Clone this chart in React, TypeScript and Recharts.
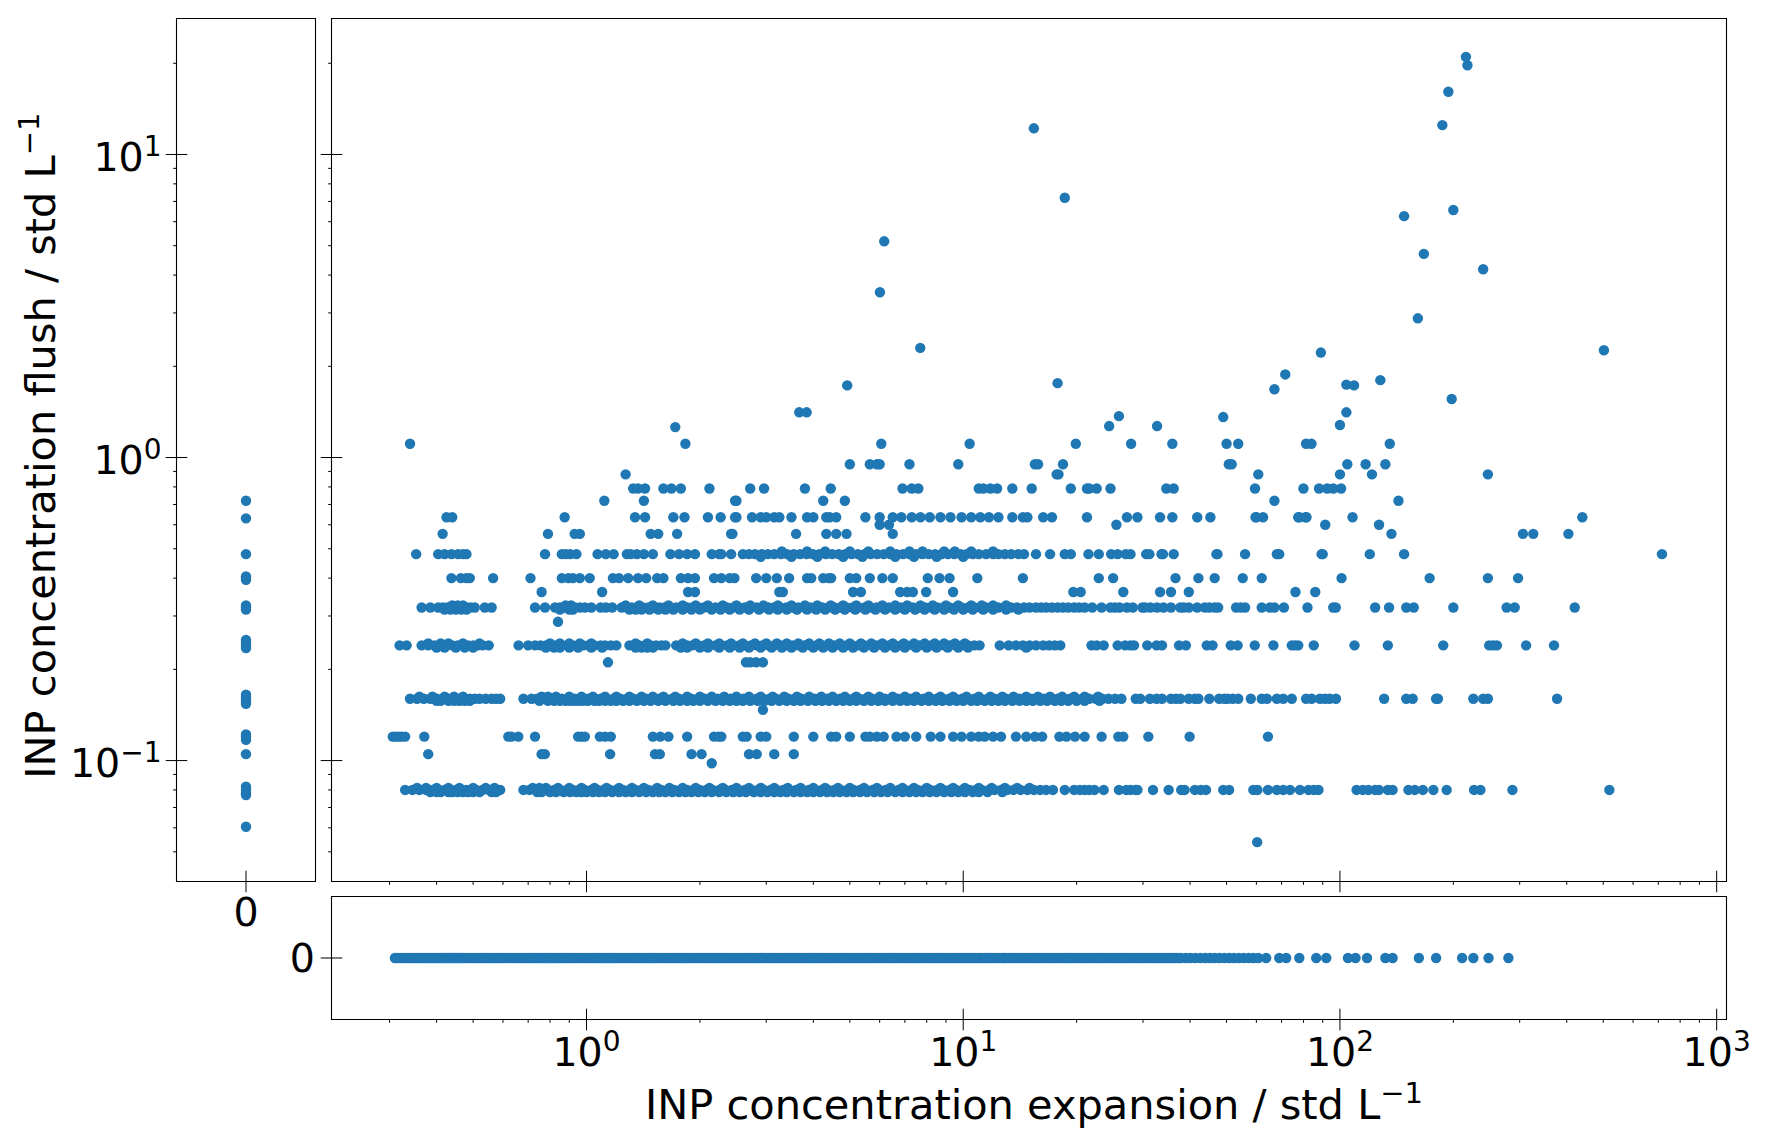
import { ReferenceArea, Scatter, ScatterChart, XAxis, YAxis } from 'recharts';

const COLOR = '#1f77b4';
const FONT = '"DejaVu Sans", sans-serif';
const LABEL_SIZE = 41.5;
const TICK_SIZE = 39.5;

// x ticks and y ticks of the log axes
const xMajor = [1, 10, 100, 1000];
const xMinor = [
  0.3, 0.4, 0.5, 0.6, 0.7, 0.8, 0.9, 2, 3, 4, 5, 6, 7, 8, 9, 20, 30, 40, 50, 60, 70, 80, 90, 200, 300,
  400, 500, 600, 700, 800, 900,
];
const yMajor = [0.1, 1, 10];
const yMinor = [
  0.05, 0.06, 0.07, 0.08, 0.09, 0.2, 0.3, 0.4, 0.5, 0.6, 0.7, 0.8, 0.9, 2, 3, 4, 5, 6, 7, 8, 9, 20,
];
const exponents: Record<number, string> = { 0.1: '−1', 1: '0', 10: '1', 100: '2', 1000: '3' };

// flush values where expansion was zero (left panel)
const flushOnly = [
  0.72, 0.63, 0.48, 0.405, 0.4, 0.395, 0.325, 0.32, 0.315, 0.25, 0.245, 0.24, 0.235, 0.165, 0.162, 0.16,
  0.157, 0.154, 0.122, 0.12, 0.117, 0.105, 0.082, 0.08, 0.078, 0.077, 0.0605,
];

// expansion values where flush was zero (bottom panel)
const expansionOnly = [
  0.31, 0.32, 0.33, 0.34, 0.35, 0.36, 0.37, 0.38, 0.39, 0.4, 0.41, 0.42, 0.43, 0.44, 0.45, 0.46, 0.47, 0.485,
  0.5, 0.515, 0.53, 0.545, 0.56, 0.575, 0.59, 0.61, 0.63, 0.65, 0.67, 0.69, 0.71, 0.73, 0.75, 0.77, 0.79, 0.81,
  0.83, 0.855, 0.88, 0.905, 0.93, 0.96, 0.99, 1.02, 1.05, 1.08, 1.11, 1.14, 1.17, 1.2, 1.24, 1.28, 1.32, 1.36,
  1.4, 1.44, 1.48, 1.52, 1.57, 1.62, 1.67, 1.72, 1.77, 1.82, 1.87, 1.93, 1.99, 2.05, 2.11, 2.17, 2.23, 2.3, 2.37,
  2.44, 2.51, 2.58, 2.66, 2.74, 2.82, 2.9, 2.99, 3.08, 3.17, 3.26, 3.36, 3.46, 3.56, 3.67, 3.78, 3.89, 4.0, 4.12,
  4.24, 4.37, 4.5, 4.64, 4.78, 4.92, 5.07, 5.22, 5.38, 5.54, 5.7, 5.87, 6.05, 6.23, 6.42, 6.61, 6.81, 7.01, 7.22,
  7.44, 7.66, 7.89, 8.13, 8.37, 8.62, 8.88, 9.15, 9.42, 9.7, 10, 10.3, 10.6, 10.9, 11.2, 11.6, 11.9, 12.3, 12.7,
  13, 13.4, 13.8, 14.2, 14.7, 15.1, 15.6, 16, 16.5, 17, 17.5, 18, 18.6, 19.1, 19.7, 20.3, 20.9, 21.5, 22.2, 22.8,
  23.5, 24.2, 25, 25.7, 26.5, 27.3, 28.1, 29, 29.8, 30.7, 31.7, 32.6, 33.6, 34.6, 35.6, 36.7, 37.8, 39, 40.1, 41.3,
  42.6, 43.9, 45.2, 46.5, 47.9, 49.3, 50.8, 52.3, 53.9, 55.5, 57.2, 58.9, 60.7, 63.7, 69, 72, 78, 86.5, 92, 105,
  110, 118, 132, 138, 162, 180, 211, 226, 248, 280,
];
const expansionOnlyDense = [
  0.315, 0.325, 0.335, 0.345, 0.355, 0.365, 0.375, 0.385, 0.395, 0.405, 0.415, 0.425, 0.435, 0.445, 0.455, 0.465, 0.477, 0.492,
  0.507, 0.522, 0.537, 0.552, 0.567, 0.582, 0.6, 0.62, 0.64, 0.66, 0.68, 0.7, 0.72, 0.74, 0.76, 0.78, 0.8, 0.82, 0.842, 0.867,
  0.892, 0.917, 0.945, 0.975, 1.005, 1.035, 1.065, 1.095, 1.125, 1.155, 1.185, 1.22, 1.26, 1.3, 1.34, 1.38, 1.42, 1.46, 1.5, 1.545,
  1.595, 1.645, 1.695, 1.745, 1.795, 1.845, 1.9, 1.96, 2.02, 2.08, 2.14, 2.2, 2.265, 2.335, 2.405, 2.475, 2.545, 2.62, 2.7, 2.78,
  2.86, 2.945, 3.035, 3.125, 3.215, 3.31, 3.41, 3.51, 3.615, 3.725, 3.835, 3.945, 4.06, 4.18, 4.305, 4.435, 4.57, 4.71, 4.85, 4.995,
  5.145, 5.3, 5.46, 5.62, 5.785, 5.96, 6.14, 6.325, 6.515, 6.71, 6.91, 7.115, 7.33, 7.55, 7.775, 8.01, 8.25, 8.495, 8.75, 9.015,
  9.285, 9.56, 9.85, 10.15, 10.45, 10.75, 11.05, 11.4, 11.75, 12.1, 12.5, 12.85, 13.2, 13.6, 14, 14.45, 14.9, 15.35, 15.8, 16.25,
  16.75, 17.25, 17.75, 18.3, 18.85, 19.4, 20, 20.6, 21.2, 21.85, 22.5, 23.15, 23.85, 24.6, 25.35, 26.1, 26.9, 27.7, 28.55, 29.4,
  30.25, 31.2, 32.15, 33.1, 34.1, 35.1, 36.15, 37.25,
];

// main panel, one list of expansion values per flush level
const at008 = [
  0.33, 0.345, 0.36, 0.375, 0.39, 0.405, 0.42, 0.435, 0.45, 0.465, 0.48, 0.495, 0.51, 0.53, 0.55, 0.57, 0.59, 0.68,
  0.705, 0.73, 0.76, 0.79, 0.82, 0.85, 0.885, 0.92, 0.955, 0.99, 1.03, 1.07, 1.11, 1.155, 1.2, 1.25, 1.3, 1.35, 1.4,
  1.46, 1.52, 1.58, 1.64, 1.71, 1.78, 1.85, 1.92, 2.0, 2.08, 2.16, 2.25, 2.34, 2.43, 2.53, 2.63, 2.74, 2.85, 2.96,
  3.08, 3.2, 3.33, 3.46, 3.6, 3.74, 3.89, 4.05, 4.21, 4.38, 4.55, 4.73, 4.92, 5.12, 5.32, 5.53, 5.75, 5.98, 6.22,
  6.47, 6.73, 7.0, 7.28, 7.57, 7.87, 8.19, 8.52, 8.86, 9.21, 9.58, 9.96, 10.4, 10.8, 11.2, 11.7, 12.1, 12.6, 13.1,
  13.6, 14.2, 14.8, 15.4, 16, 16.6, 17.3, 18.6, 19.7, 20.4, 21, 21.6, 22.3, 23.6, 25.9, 27.1, 27.8, 28.7, 29, 31.9,
  35.1, 37.9, 38.7, 41.2, 42.7, 44.1, 49, 50.8, 58.9, 60.4, 64.4, 68, 70.7, 73.7, 78.3, 82.5, 85.2, 87.7, 110.7, 115,
  119, 124, 127, 134, 138, 152, 158, 166, 177, 192, 227, 236, 287, 519,
];
const at0079 = [
  0.385, 0.41, 0.44, 0.47, 0.5, 0.575, 0.74, 0.8, 0.87, 0.94, 1.0, 1.08, 1.17, 1.27, 1.38, 1.5, 1.62, 1.76, 1.9, 2.06,
  2.25, 2.45, 2.65, 2.9, 3.15, 3.4, 3.7, 4.0, 4.35, 4.7, 5.1, 5.55, 6.05, 6.6, 7.2, 7.8, 8.5, 9.3, 10.1, 11,
  0.4, 0.43, 0.455, 0.485, 0.52, 0.56, 0.76, 0.83, 0.905, 0.97, 1.04, 1.12, 1.22, 1.32, 1.44, 1.56, 1.69, 1.83, 1.98, 2.15,
  2.35, 2.55, 2.78, 3.02, 3.27, 3.55, 3.85, 4.17, 4.52, 4.9, 5.32, 5.8, 6.3, 6.9, 7.5, 8.15, 8.9, 9.7, 10.6, 11.6, 12.7,
];
const at0081 = [
  0.355, 0.4, 0.46, 0.54, 0.72, 0.78, 0.9, 1.05, 1.22, 1.42, 1.66, 1.95, 2.3, 2.7, 3.15, 3.7, 4.3, 5, 5.9, 6.9, 8, 9.4,
  11, 12.9, 15, 0.375, 0.43, 0.5, 0.57, 0.75, 0.84, 0.97, 1.13, 1.32, 1.54, 1.8, 2.12, 2.5, 2.9, 3.42, 4, 4.65, 5.45, 6.4,
  7.4, 8.7, 10.1, 11.9, 13.9,
];
const at012 = [
  0.306, 0.312, 0.317, 0.323, 0.33, 0.371, 0.62, 0.632, 0.659, 0.73, 0.95, 0.97, 0.99, 1.085, 1.12, 1.16, 1.5, 1.57,
  1.65, 1.85, 2.18, 2.24, 2.28, 2.6, 2.66, 2.9, 3.0, 3.55, 4.0, 4.46, 4.6, 5.0, 5.5, 5.65, 5.9, 6.15, 6.65, 7, 7.5, 8.2,
  8.7, 9.4, 9.9, 10.5, 11, 11.4, 12, 12.6, 13.8, 14.7, 15.5, 16.2, 18, 18.8, 19.8, 21, 23.3, 25.8, 26.6, 31, 39.9, 64.4,
];
const at0105 = [0.38, 0.76, 0.775, 1.155, 1.52, 1.565, 1.9, 2.02, 2.7, 2.83, 3.15, 3.55];
const at016 = [
  0.34, 0.355, 0.37, 0.385, 0.4, 0.415, 0.43, 0.445, 0.46, 0.475, 0.49, 0.505, 0.52, 0.54, 0.56, 0.575, 0.59, 0.68, 0.715,
  0.74, 0.77, 0.8, 0.83, 0.86, 0.895, 0.93, 0.97, 1.01, 1.05, 1.09, 1.13, 1.18, 1.23, 1.28, 1.33, 1.38, 1.44, 1.5, 1.56,
  1.62, 1.69, 1.76, 1.83, 1.9, 1.98, 2.06, 2.14, 2.23, 2.32, 2.41, 2.51, 2.61, 2.72, 2.83, 2.94, 3.06, 3.18, 3.31, 3.44,
  3.58, 3.72, 3.87, 4.03, 4.19, 4.36, 4.53, 4.71, 4.9, 5.1, 5.3, 5.51, 5.73, 5.96, 6.2, 6.45, 6.71, 6.98, 7.26, 7.55,
  7.85, 8.16, 8.49, 8.83, 9.18, 9.55, 9.93, 10.3, 10.7, 11.1, 11.6, 12.1, 12.5, 13, 13.6, 14.1, 14.7, 15.2, 15.8, 16.4,
  17.1, 17.8, 18.5, 19.2, 20, 20.8, 21.6, 22.5, 23.4, 24.3, 25.3, 26.3, 28.7, 29.5, 31.3, 32.6, 33.7, 35.6, 36.7, 37.7,
  39.7, 41.2, 42.1, 45, 47.8, 49.3, 50.3, 51.9, 53.7, 58, 62, 64, 68, 70.7, 74.5, 81.3, 84.1, 88.5, 91.2, 93.9, 97.6, 131,
  150, 156, 180, 182, 226, 240, 247, 377,
];
const at0157 = [
  0.4, 0.43, 0.46, 0.49, 0.75, 0.82, 0.88, 0.93, 0.98, 1.05, 1.12, 1.2, 1.3, 1.42, 1.55, 1.7, 1.85, 2.0, 2.2, 2.4, 2.6, 2.85,
  3.1, 3.4, 3.7, 4.05, 4.4, 4.8, 5.2, 5.7, 6.2, 6.8, 7.4, 8.1, 8.8, 9.6, 10.5, 11.4, 12.4, 13.5, 14.7, 16, 17.5, 19, 21, 23,
  0.41, 0.445, 0.475, 0.79, 0.85, 0.905, 0.955, 1.01, 1.08, 1.16, 1.25, 1.36, 1.48, 1.62, 1.77, 1.92, 2.1, 2.3, 2.5, 2.72, 2.97,
  3.25, 3.55, 3.87, 4.22, 4.6, 5, 5.45, 5.95, 6.5, 7.1, 7.75, 8.45, 9.2, 10, 10.9, 11.9, 12.9, 14.1, 15.3, 16.7, 18.2, 20,
];
const at0163 = [
  0.36, 0.42, 0.47, 0.76, 0.9, 1.04, 1.2, 1.4, 1.6, 1.85, 2.15, 2.5, 2.9, 3.35, 3.9, 4.5, 5.2, 6, 7, 8.1, 9.4, 11, 12.7, 14.7,
  17, 19.7, 22.8, 0.39, 0.445, 0.79, 0.83, 0.97, 1.12, 1.3, 1.5, 1.72, 2, 2.32, 2.7, 3.12, 3.62, 4.2, 4.85, 5.6, 6.5, 7.5, 8.7,
  10.2, 11.8, 13.6, 15.8, 18.3, 21,
];
const at024 = [
  0.319, 0.333, 0.365, 0.38, 0.395, 0.41, 0.425, 0.44, 0.455, 0.47, 0.485, 0.5, 0.515, 0.53, 0.55, 0.66, 0.7, 0.73, 0.755,
  0.78, 0.805, 0.83, 0.86, 0.89, 0.92, 0.95, 0.98, 1.01, 1.05, 1.09, 1.12, 1.16, 1.2, 1.3, 1.34, 1.38, 1.43, 1.48, 1.53, 1.58,
  1.62, 1.73, 1.79, 1.85, 1.91, 1.98, 2.05, 2.12, 2.2, 2.28, 2.36, 2.45, 2.54, 2.63, 2.73, 2.83, 2.93, 3.04, 3.15, 3.27, 3.39,
  3.52, 3.65, 3.79, 3.93, 4.08, 4.23, 4.39, 4.55, 4.72, 4.9, 5.08, 5.27, 5.47, 5.68, 5.89, 6.11, 6.34, 6.58, 6.83, 7.09, 7.36,
  7.64, 7.93, 8.23, 8.54, 8.86, 9.2, 9.55, 9.9, 10.3, 10.7, 11.05, 12.5, 13.2, 13.8, 14.4, 15, 15.6, 16.3, 16.9, 17.5, 18.1,
  21.9, 22.6, 23.6, 25.7, 26.9, 27.8, 28.4, 30.8, 32.6, 33.7, 37.4, 39, 44.3, 45.9, 51.3, 53.5, 59.4, 66.6, 74.5, 76, 77.5,
  85.2, 109.3, 134, 188, 249, 255, 261, 312, 370,
];
const at0236 = [
  0.4, 0.45, 0.5, 0.78, 0.85, 0.95, 1.1, 1.4, 1.5, 1.85, 2.1, 2.4, 2.7, 3.1, 3.5, 4, 4.5, 5.1, 5.8, 6.6, 7.5, 8.5, 9.7, 14.7,
  0.42, 0.475, 0.82, 0.9, 1.03, 1.35, 1.45, 1.78, 2, 2.25, 2.55, 2.9, 3.3, 3.75, 4.25, 4.8, 5.45, 6.2, 7, 8, 9.1, 10.3,
];
const at0243 = [
  0.38, 0.43, 0.52, 0.8, 0.9, 1.03, 1.45, 1.95, 2.25, 2.6, 3, 3.4, 3.9, 4.4, 5, 5.7, 6.5, 7.4, 8.4, 9.5, 0.41, 0.47, 0.85, 0.96,
  1.35, 1.8, 2.1, 2.42, 2.8, 3.2, 3.65, 4.15, 4.7, 5.35, 6.1, 6.95, 7.9, 8.9, 10.1,
];
const at032 = [
  0.365, 0.385, 0.404, 0.415, 0.426, 0.437, 0.448, 0.459, 0.47, 0.481, 0.492, 0.505, 0.537, 0.56, 0.73, 0.776, 0.825, 0.85,
  0.875, 0.9, 0.93, 0.96, 0.99, 1.03, 1.09, 1.125, 1.17, 1.24, 1.28, 1.32, 1.36, 1.41, 1.46, 1.51, 1.56, 1.61, 1.67, 1.73, 1.79,
  1.85, 1.91, 1.98, 2.05, 2.12, 2.2, 2.28, 2.36, 2.45, 2.54, 2.63, 2.73, 2.83, 2.93, 3.04, 3.15, 3.27, 3.39, 3.52, 3.65, 3.79,
  3.93, 4.08, 4.23, 4.39, 4.55, 4.72, 4.9, 5.08, 5.27, 5.47, 5.68, 5.89, 6.11, 6.34, 6.58, 6.83, 7.09, 7.36, 7.64, 7.93, 8.23,
  8.54, 8.86, 9.2, 9.55, 9.9, 10.3, 10.7, 11.1, 11.5, 11.9, 12.4, 12.9, 13.4, 13.9, 14.5, 15, 15.6, 16.1, 16.6, 17.2, 17.8, 18.4,
  19, 19.7, 20.3, 21, 22, 23.3, 24.6, 25.3, 26, 27.2, 28.2, 29.9, 30.4, 31.4, 32.7, 34, 35.6, 37.7, 38.5, 39.7, 41.8, 43.8, 45,
  46.5, 47.5, 53, 54.5, 56, 62, 65.2, 67, 71, 82, 96, 97.5, 124, 135, 150, 157, 200, 277, 291, 420,
];
const at0315 = [
  0.42, 0.45, 0.48, 0.85, 0.92, 1.3, 1.4, 1.55, 1.7, 1.9, 2.15, 2.4, 2.7, 3.05, 3.4, 3.85, 4.3, 4.85, 5.5, 6.2, 7, 7.9, 8.9, 10,
  11.3, 13, 0.435, 0.465, 0.9, 1.35, 1.47, 1.62, 1.8, 2, 2.27, 2.55, 2.87, 3.22, 3.62, 4.07, 4.57, 5.17, 5.85, 6.6, 7.45, 8.4,
  9.45, 10.6, 12, 14,
];
const at0325 = [
  0.44, 0.47, 0.88, 1.27, 1.5, 1.8, 2.1, 2.5, 2.95, 3.5, 4.1, 4.8, 5.6, 6.6, 7.7, 9, 10.5, 12, 0.455, 0.91, 1.38, 1.65, 1.95, 2.3,
  2.72, 3.22, 3.8, 4.45, 5.2, 6.1, 7.1, 8.3, 9.7, 11.2, 13,
];
const at036 = [
  0.76, 1.1, 1.86, 1.94, 3.25, 3.32, 5.1, 5.35, 6.8, 7.1, 7.35, 7.97, 9.4, 19.6, 20.5, 26.6, 33.3, 35.6, 39.7, 76.2, 86,
];
const at04 = [
  0.438, 0.464, 0.48, 0.49, 0.565, 0.71, 0.86, 0.895, 0.92, 0.96, 1.02, 1.175, 1.22, 1.29, 1.37, 1.44, 1.54, 1.6, 1.78, 1.86, 1.94,
  2.18, 2.28, 2.4, 2.47, 2.82, 3.0, 3.2, 3.45, 3.85, 3.95, 4.25, 4.4, 4.46, 5.0, 5.2, 5.65, 6.1, 6.5, 8.05, 8.65, 9.2, 10.9, 14.4,
  22.9, 25, 36.6, 42.1, 46.5, 55.2, 62, 101, 173, 247, 297,
];
const at048 = [
  0.353, 0.404, 0.42, 0.438, 0.456, 0.47, 0.48, 0.776, 0.86, 0.88, 0.905, 0.94, 1.07, 1.125, 1.18, 1.28, 1.31, 1.36, 1.42, 1.5,
  1.67, 1.76, 1.85, 1.94, 2.15, 2.25, 2.28, 2.42, 2.6, 2.7, 2.8, 2.92, 3.03, 3.15, 3.28, 3.41, 3.55, 3.69, 3.84, 3.99, 4.15, 4.32,
  4.49, 4.67, 4.86, 5.05, 5.25, 5.46, 5.68, 5.91, 6.15, 6.4, 6.65, 6.92, 7.2, 7.49, 7.79, 8.1, 8.42, 8.76, 9.11, 9.47, 9.85, 10.2,
  10.6, 11, 11.5, 12, 12.4, 12.9, 13.4, 14, 14.5, 15.6, 17, 18.6, 19.3, 21.5, 22.9, 24.7, 25.7, 27, 27.8, 30.6, 31.2, 33.6, 33.9,
  36.2, 47, 47.3, 56, 68, 69, 89.4, 90, 120, 148, 716,
];
const at049 = [3.3, 3.85, 4.3, 5, 5.6, 6.4, 7.2, 7.8, 8.9, 9.5, 10.5, 12];
const at047 = [2.9, 3.5, 4.1, 4.8, 5.4, 6.6, 7.4, 8.5, 10];
const at056 = [0.415, 0.79, 0.93, 0.96, 1.48, 1.55, 1.74, 2.42, 2.44, 3.6, 4.33, 4.6, 4.9, 6.5, 137, 306, 326, 404];
const at06 = [6.0, 6.35, 25.5, 91.4, 127];
const at064 = [
  0.425, 0.44, 0.875, 1.345, 1.43, 1.7, 1.82, 2.1, 2.27, 2.48, 2.5, 2.75, 2.9, 3.0, 3.15, 3.25, 3.5, 3.85, 4.0, 4.33, 4.42, 4.6,
  5.5, 6.0, 6.5, 6.85, 7.3, 7.7, 8.15, 8.7, 9.25, 9.9, 10.5, 11.1, 11.7, 12.4, 13.5, 14.4, 14.8, 16.3, 17.2, 21.3, 27.2, 29, 33.3,
  35.9, 41.8, 45.3, 59.7, 60, 62.5, 77.5, 78, 81, 81.5, 108, 440,
];
const at072 = [1.115, 1.42, 2.48, 2.5, 4.25, 4.85, 67, 143];
const at08 = [
  1.33, 1.37, 1.43, 1.6, 1.68, 1.78, 2.12, 2.72, 2.96, 3.8, 4.45, 6.9, 7.3, 7.6, 11, 11.3, 11.8, 12.3, 13.5, 15.2, 19.3, 21.3, 21.6,
  22.6, 24.6, 34.6, 36.2, 59.5, 80, 88, 92.5, 96, 100.7,
];
const at088 = [1.27, 17.7, 17.9, 60.7, 100, 121.6, 247];
const at095 = [5.0, 5.65, 5.9, 6.0, 7.2, 9.7, 15.5, 15.8, 18.4, 50.7, 51.6, 104.6, 117, 132];
const at111 = [0.34, 1.83, 6.06, 10.4, 19.9, 27.9, 35.9, 50, 53.7, 81.3, 84, 135.6];
const at0285 = [0.84];
const at021 = [1.14, 2.65, 2.72, 2.82, 2.94];
const at0147 = [2.94];
const at0098 = [2.15];
const at0054 = [60.3];

// scattered high points as [expansion, flush]
const outliers = [
  [216, 21], [218, 19.7], [194, 16.1], [187, 12.5], [15.4, 12.2], [18.6, 7.2], [200, 6.56], [148, 6.26], [6.17, 5.17], [167, 4.7],
  [240, 4.18], [6.01, 3.51], [161, 2.88], [7.69, 2.3], [502, 2.26], [89, 2.22], [71.6, 1.88], [4.92, 1.73], [67, 1.68], [17.8, 1.76],
  [104, 1.74], [109, 1.73], [128, 1.8], [198, 1.56], [3.67, 1.41], [3.84, 1.41], [104, 1.41], [25.9, 1.37], [24.4, 1.27], [32.7, 1.27],
  [49, 1.36], [100, 1.28], [1.72, 1.26],
];

const level = (xs: number[], y: number) => xs.map((x) => ({ x, y }));

const mainData = [
  ...level(at008, 0.08), ...level(at0079, 0.0787), ...level(at0081, 0.0812),
  ...level(at012, 0.12), ...level(at0105, 0.105), ...level(at016, 0.16),
  ...level(at0157, 0.1575), ...level(at0163, 0.1625), ...level(at024, 0.24),
  ...level(at0236, 0.236), ...level(at0243, 0.2435), ...level(at032, 0.32),
  ...level(at0315, 0.315), ...level(at0325, 0.325), ...level(at036, 0.36),
  ...level(at04, 0.4), ...level(at048, 0.48), ...level(at049, 0.49), ...level(at047, 0.47),
  ...level(at056, 0.56), ...level(at06, 0.6), ...level(at064, 0.635), ...level(at072, 0.72),
  ...level(at08, 0.79), ...level(at088, 0.88), ...level(at095, 0.95), ...level(at111, 1.11),
  ...level(at0285, 0.287), ...level(at021, 0.211), ...level(at0147, 0.147),
  ...level(at0098, 0.098), ...level(at0054, 0.0538),
  ...outliers.map(([x, y]) => ({ x, y })),
];
const leftData = flushOnly.map((y) => ({ x: 0, y }));
const bottomData = [...expansionOnly, ...expansionOnlyDense].map((x) => ({ x, y: 0 }));

const X_DOMAIN: [number, number] = [0.2104, 1062];
const Y_DOMAIN: [number, number] = [0.0399, 28.1];
const ZERO_DOMAIN: [number, number] = [-1, 1];
const W = 1766;
const H = 1145;
// the axes take 1px each, so the margins are 1px short of the panel edges
const MAIN_MARGIN = { left: 330.5, right: 39.5, top: 18.5, bottom: 262.5 };
const LEFT_MARGIN = { left: 175.5, right: 1450.5, top: 18.5, bottom: 262.5 };
const BOTTOM_MARGIN = { left: 330.5, right: 39.5, top: 896.5, bottom: 124.5 };

const Power = ({ x, y, anchor, value }: any) => (
  <text x={x} y={y} textAnchor={anchor} fontFamily={FONT} fontSize={TICK_SIZE} fill="#000">
    10
    <tspan dy={-15} fontSize={28}>
      {exponents[value]}
    </tspan>
  </text>
);

const BottomTick = ({ x, y, payload, showLabel }: any) => {
  const value = payload.value;
  const major = value === 0 || xMajor.includes(value);
  return (
    <g>
      <line x1={x} x2={x} y1={major ? y - 10.8 : y} y2={major ? y + 10.8 : y + 3.3} stroke="#000" strokeWidth={1} />
      {showLabel && major && value !== 0 && <Power x={x} y={y + 46.7} anchor="middle" value={value} />}
      {showLabel && value === 0 && (
        <text x={x} y={y + 44.2} textAnchor="middle" fontFamily={FONT} fontSize={TICK_SIZE} fill="#000">
          0
        </text>
      )}
    </g>
  );
};

const LeftTick = ({ x, y, payload, showLabel }: any) => {
  const value = payload.value;
  const major = value === 0 || yMajor.includes(value);
  return (
    <g>
      <line x1={major ? x - 10.8 : x - 3.3} x2={major ? x + 10.8 : x} y1={y} y2={y} stroke="#000" strokeWidth={1} />
      {showLabel && major && value !== 0 && <Power x={x - 15} y={y + 16.4} anchor="end" value={value} />}
      {showLabel && value === 0 && (
        <text x={x - 16.5} y={y + 14} textAnchor="end" fontFamily={FONT} fontSize={TICK_SIZE} fill="#000">
          0
        </text>
      )}
    </g>
  );
};

const Dot = ({ cx, cy }: any) => <circle cx={cx} cy={cy} r={5.2} fill={COLOR} />;

const overlay = { position: 'absolute', left: 0, top: 0 } as const;

const Panel = ({ data, margin, xLog, yLog, xLabel, yLabel }: any) => {
  const xDomain = xLog ? X_DOMAIN : ZERO_DOMAIN;
  const yDomain = yLog ? Y_DOMAIN : ZERO_DOMAIN;
  return (
    <div style={overlay}>
      <ScatterChart width={W} height={H} margin={margin}>
        <XAxis
          type="number"
          dataKey="x"
          scale={xLog ? 'log' : 'linear'}
          domain={xDomain}
          ticks={xLog ? [...xMinor, ...xMajor] : [0]}
          interval={0}
          allowDataOverflow
          height={1}
          axisLine={false}
          tickLine={false}
          tickSize={0}
          tickMargin={0}
          tick={(props: any) => <BottomTick {...props} showLabel={xLabel} />}
        />
        <YAxis
          type="number"
          dataKey="y"
          scale={yLog ? 'log' : 'linear'}
          domain={yDomain}
          ticks={yLog ? [...yMinor, ...yMajor] : [0]}
          interval={0}
          allowDataOverflow
          width={1}
          axisLine={false}
          tickLine={false}
          tickSize={0}
          tickMargin={0}
          tick={(props: any) => <LeftTick {...props} showLabel={yLabel} />}
        />
        <ReferenceArea
          x1={xDomain[0]}
          x2={xDomain[1]}
          y1={yDomain[0]}
          y2={yDomain[1]}
          fill="none"
          stroke="#000"
          strokeWidth={1.1}
          ifOverflow="visible"
        />
        <Scatter data={data} fill={COLOR} shape={Dot} isAnimationActive={false} />
      </ScatterChart>
    </div>
  );
};

export default function App() {
  return (
    <div style={{ ...overlay, width: W, height: H, background: '#fff' }}>
      <Panel data={leftData} margin={LEFT_MARGIN} xLog={false} yLog xLabel yLabel />
      <Panel data={mainData} margin={MAIN_MARGIN} xLog yLog xLabel={false} yLabel={false} />
      <Panel data={bottomData} margin={BOTTOM_MARGIN} xLog yLog={false} xLabel yLabel />
      <svg width={W} height={H} style={{ ...overlay, pointerEvents: 'none' }}>
        <text x={1034} y={1118.6} textAnchor="middle" fontFamily={FONT} fontSize={LABEL_SIZE} fill="#000">
          INP concentration expansion / std L
          <tspan dy={-16} fontSize={29}>
            −1
          </tspan>
        </text>
        <text
          x={54.8}
          y={445.6}
          transform="rotate(-90 54.8 445.6)"
          textAnchor="middle"
          fontFamily={FONT}
          fontSize={LABEL_SIZE}
          fill="#000"
        >
          INP concentration flush / std L
          <tspan dy={-16} fontSize={29}>
            −1
          </tspan>
        </text>
      </svg>
    </div>
  );
}
